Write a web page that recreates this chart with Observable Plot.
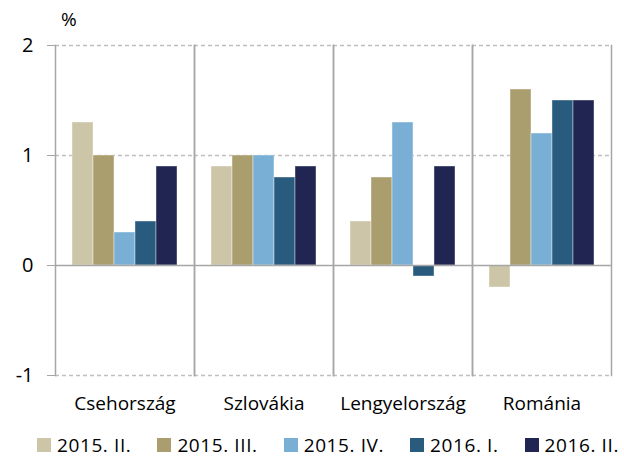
<!DOCTYPE html>
<html><head><meta charset="utf-8">
<script src="https://cdn.jsdelivr.net/npm/d3@7"></script>
<script src="https://cdn.jsdelivr.net/npm/@observablehq/plot@0.6"></script>
<style>
body{margin:0;background:#fff;font-family:"Open Sans",sans-serif;color:#000;width:624px;height:458px;overflow:hidden;}
#unit{height:32px;position:relative;}
#unit span{position:absolute;left:61px;top:6px;font-size:19px;}
#chart svg{display:block;}
#legend{display:flex;align-items:center;margin-left:37px;margin-top:13px;height:20px;line-height:20px;font-size:19px;gap:26px;white-space:nowrap;letter-spacing:0.6px;}
#legend .item{display:flex;align-items:center;}
#legend .sw{width:14px;height:14px;margin-right:6px;}
</style></head><body>
<div id="unit"><span>%</span></div>
<div id="chart"></div>
<div id="legend"></div>
<script>
const countries = ["Csehország", "Szlovákia", "Lengyelország", "Románia"];
const series = ["2015. II.", "2015. III.", "2015. IV.", "2016. I.", "2016. II."];
const colors = ["#cdc5a7", "#ab9e6e", "#7aafd5", "#285b7e", "#202552"];
const s2015II = [1.3, 0.9, 0.4, -0.2];
const s2015III = [1.0, 1.0, 0.8, 1.6];
const s2015IV = [0.3, 1.0, 1.3, 1.2];
const s2016I = [0.4, 0.8, -0.1, 1.5];
const s2016II = [0.9, 0.9, 0.9, 1.5];
const yTicks = [-1, 0, 1, 2];
const gridTicks = [-1, 1, 2];

const seriesValues = [s2015II, s2015III, s2015IV, s2016I, s2016II];
const data = [];
countries.forEach((c, i) => series.forEach((s, j) => data.push({country: c, series: s, value: seriesValues[j][i]})));

const chart = Plot.plot({
  width: 624, height: 390,
  marginLeft: 55, marginRight: 13, marginTop: 13, marginBottom: 47,
  style: {fontFamily: "'Open Sans', sans-serif", fontSize: "19px", color: "#000", background: "white"},
  fx: {domain: countries, padding: 0, label: null, axis: null},
  x: {domain: series, padding: 0, paddingOuter: 0.78, axis: null},
  y: {domain: [-1, 2], label: null},
  color: {domain: series, range: colors},
  marks: [
    Plot.gridY(gridTicks, {stroke: "#bfbfbf", strokeOpacity: 1, strokeDasharray: "4,3", strokeWidth: 1.5}),
    Plot.frame({anchor: "left", stroke: "#a6a6a6", strokeWidth: 1.5}),
    Plot.frame({anchor: "right", stroke: "#a6a6a6", strokeWidth: 1.5}),
    Plot.barY(data, {fx: "country", x: "series", y: "value", fill: "series", stroke: "white", strokeOpacity: 0.4, strokeWidth: 1}),
    Plot.ruleY([0], {stroke: "#a6a6a6", strokeWidth: 1.5}),
    Plot.axisY(yTicks, {tickSize: 8, tickPadding: 14, stroke: "#a6a6a6", fontSize: 20, label: null, tickFormat: d => String(d)}),
    Plot.axisFx({anchor: "bottom", tickSize: 0, tickPadding: 21, label: null, fontSize: 19, letterSpacing: 0.3})
  ]
});
document.getElementById("chart").appendChild(chart);

const legend = document.getElementById("legend");
series.forEach((s, i) => {
  const item = document.createElement("div");
  item.className = "item";
  const sw = document.createElement("span");
  sw.className = "sw";
  sw.style.background = colors[i];
  const t = document.createElement("span");
  t.textContent = s;
  item.appendChild(sw);
  item.appendChild(t);
  legend.appendChild(item);
});
</script>
</body></html>
